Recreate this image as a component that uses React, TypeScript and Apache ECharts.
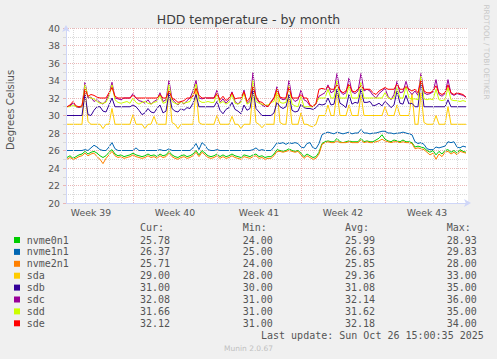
import React, { useEffect, useRef } from 'react';
import * as echarts from 'echarts';

const TITLE = 'HDD temperature - by month';
const Y_NAME = 'Degrees Celsius';
const WATERMARK = 'RRDTOOL / TOBI OETIKER';
const LAST_UPDATE = 'Last update: Sun Oct 26 15:00:35 2025';
const FOOTER = 'Munin 2.0.67';

const SERIES_NAMES = ['nvme0n1', 'nvme1n1', 'nvme2n1', 'sda', 'sdb', 'sdc', 'sdd', 'sde'];
const COLORS = ['#00cc00', '#0066b3', '#ff8000', '#ffcc00', '#330099', '#990099', '#ccff00', '#ff0000'];

// time axis in days since Mon 22 Sep 2025 00:00
const T_START = 1.5;
const T_STEP = 0.25;
const X_MIN = 1.4167;
const X_MAX = 34.9167;
const WEEK_CENTERS = [3.5, 10.5, 17.5, 24.5, 31.5];
const WEEK_LABELS = ['Week 39', 'Week 40', 'Week 41', 'Week 42', 'Week 43'];
const DAY_LINES = [2, 3, 4, 5, 6, 7, 8, 9, 10, 11, 12, 13, 14, 15, 16, 17, 18, 19, 20, 21, 22, 23, 24, 25, 26, 27, 28, 29, 30, 31, 32, 33, 34];
const WEEK_STARTS = [7, 14, 21, 28];

const NVME0N1 = [
  25.2, 25.4, 25.1, 25.3, 25.5, 25.6, 25.9, 25.6, 25.8, 25.9,
  25.7, 25.4, 25.2, 25.4, 25.8, 26.1, 25.6, 25.4, 25.5, 25.3,
  25.4, 25.5, 25.7, 25.5, 25.4, 25.3, 25.4, 25.6, 25.4, 25.5,
  25.3, 25.6, 25.4, 25.5, 25.9, 25.5, 25.3, 25.2, 25.4, 25.5,
  25.3, 25.4, 25.6, 26.0, 25.5, 26.0, 25.7, 25.4, 25.3, 25.4,
  25.6, 25.3, 25.5, 25.3, 25.4, 25.6, 25.4, 25.3, 25.2, 25.5,
  25.4, 25.3, 25.5, 25.6, 25.3, 25.4, 25.2, 25.3, 25.3, 25.6,
  26.1, 26.0, 25.9, 26.0, 26.2, 26.0, 25.9, 26.0, 25.7, 25.3,
  25.6, 25.4, 25.2, 25.3, 25.8, 26.8, 27.0, 27.1, 27.0, 27.0,
  27.4, 27.0, 26.9, 27.0, 27.1, 27.0, 27.0, 27.0, 27.4, 27.0,
  27.1, 27.0, 27.0, 27.2, 27.4, 27.8, 27.3, 27.1, 27.0, 27.2,
  27.1, 27.0, 27.2, 27.0, 27.0, 26.9, 26.4, 26.5, 26.4, 26.3,
  26.0, 25.8, 26.0, 25.5, 25.9, 25.6, 26.0, 26.1, 25.8, 26.0,
  25.7, 26.1, 25.9, 25.8,
];
const NVME1N1 = [
  26.0, 26.0, 26.0, 26.0, 26.0, 26.0, 26.1, 26.0, 26.3, 26.6,
  26.4, 26.1, 26.0, 26.0, 26.4, 26.9, 26.2, 26.0, 26.0, 26.0,
  26.0, 26.0, 26.0, 26.3, 26.0, 26.0, 26.0, 26.0, 26.0, 26.0,
  26.0, 26.1, 26.0, 26.0, 26.2, 26.0, 26.0, 26.0, 26.0, 26.0,
  26.0, 26.0, 26.3, 26.8, 26.1, 26.9, 26.6, 26.1, 26.0, 26.0,
  26.1, 26.0, 26.0, 26.0, 26.0, 26.0, 26.0, 26.0, 26.0, 26.0,
  26.0, 26.0, 26.1, 26.3, 26.0, 26.1, 26.0, 26.0, 26.0, 26.4,
  26.9, 26.8, 26.9, 26.7, 26.9, 26.8, 26.9, 26.8, 26.4, 26.3,
  26.8, 26.9, 26.3, 26.2, 26.8, 27.8, 28.0, 28.1, 28.0, 27.9,
  28.1, 28.0, 27.9, 28.0, 28.1, 27.9, 28.0, 28.0, 28.4, 28.0,
  28.0, 27.9, 28.0, 28.0, 28.1, 28.2, 28.2, 28.0, 28.0, 27.9,
  28.0, 28.0, 28.1, 28.0, 27.9, 27.8, 27.0, 26.8, 26.9, 26.7,
  26.2, 26.1, 26.1, 26.4, 26.3, 26.4, 26.5, 27.0, 26.9, 27.0,
  26.4, 26.3, 26.5, 26.4,
];
const NVME2N1 = [
  25.0, 25.2, 25.0, 25.1, 25.3, 25.4, 25.7, 25.4, 25.6, 25.7,
  25.3, 25.0, 24.5, 25.1, 25.5, 25.9, 25.4, 25.2, 25.3, 25.1,
  25.2, 25.3, 25.5, 25.3, 25.2, 25.1, 25.2, 25.4, 25.2, 25.3,
  25.1, 25.4, 25.2, 25.3, 25.7, 25.3, 25.1, 25.0, 25.2, 25.3,
  25.1, 25.2, 25.4, 25.8, 25.3, 25.8, 25.5, 25.2, 25.1, 25.2,
  25.4, 25.1, 25.3, 25.1, 25.2, 25.4, 25.2, 25.1, 25.0, 25.3,
  25.2, 25.1, 25.3, 25.4, 25.1, 25.2, 25.0, 25.1, 25.1, 25.4,
  25.9, 25.9, 25.8, 25.9, 26.0, 25.9, 25.8, 25.9, 25.5, 25.1,
  25.4, 25.2, 25.0, 25.1, 25.6, 26.7, 26.9, 27.0, 26.9, 26.9,
  27.1, 26.9, 26.9, 26.9, 27.0, 26.9, 26.9, 26.9, 27.2, 26.9,
  27.0, 26.9, 26.9, 27.0, 27.1, 27.3, 27.1, 27.0, 26.9, 27.0,
  27.0, 26.9, 27.0, 26.9, 26.9, 26.8, 26.2, 26.3, 26.2, 26.1,
  25.8, 25.5, 25.7, 25.0, 25.6, 25.3, 25.8, 25.9, 25.6, 25.8,
  25.5, 25.9, 25.8, 25.7,
];
const SDA = [
  29.0, 29.0, 29.0, 29.0, 29.0, 29.0, 33.0, 29.3, 29.0, 29.0,
  29.0, 29.0, 28.5, 29.0, 29.0, 30.8, 29.0, 29.0, 29.0, 29.0,
  29.0, 29.0, 30.1, 29.0, 29.0, 29.0, 28.5, 29.0, 29.0, 29.9,
  29.0, 29.0, 29.0, 29.0, 33.0, 29.2, 29.0, 28.5, 29.0, 29.0,
  29.0, 29.0, 29.0, 33.0, 29.2, 29.0, 29.0, 29.0, 29.0, 29.0,
  30.0, 29.0, 29.0, 29.0, 29.0, 29.9, 29.0, 29.0, 28.5, 29.0,
  29.0, 29.0, 33.0, 29.2, 29.0, 28.6, 29.0, 29.0, 29.0, 29.0,
  33.0, 29.2, 29.0, 29.0, 32.3, 29.0, 29.0, 29.0, 30.3, 29.0,
  29.0, 28.8, 28.7, 29.0, 30.0, 30.0, 30.0, 31.2, 30.0, 30.0,
  32.7, 30.0, 30.0, 30.0, 31.2, 30.0, 30.0, 30.0, 32.3, 30.0,
  30.0, 30.0, 30.0, 30.0, 30.0, 30.0, 31.0, 30.0, 30.0, 30.0,
  31.2, 30.0, 30.0, 30.0, 30.0, 32.5, 29.0, 29.0, 32.6, 29.2,
  29.0, 29.0, 29.0, 30.0, 29.0, 29.0, 29.0, 31.0, 29.0, 29.0,
  29.0, 29.0, 29.0, 29.0,
];
const SDB = [
  30.0, 30.0, 30.0, 30.0, 30.0, 30.0, 32.5, 30.1, 30.0, 30.6,
  31.0, 31.0, 30.5, 30.4, 31.2, 32.0, 31.0, 31.0, 31.0, 31.0,
  31.0, 31.0, 31.2, 31.0, 30.6, 30.1, 30.3, 30.8, 30.4, 30.3,
  30.8, 31.2, 30.3, 30.5, 32.6, 30.8, 30.5, 30.4, 30.8, 30.6,
  30.9, 30.8, 31.4, 32.4, 31.0, 31.0, 31.0, 31.0, 31.0, 31.0,
  31.6, 30.6, 30.2, 30.7, 30.9, 31.5, 30.7, 30.5, 30.2, 31.2,
  30.6, 30.8, 33.0, 30.8, 30.4, 30.0, 30.0, 30.0, 30.0, 30.3,
  31.5, 31.0, 30.8, 31.0, 32.4, 30.6, 30.4, 30.5, 31.3, 30.9,
  30.8, 30.8, 30.7, 30.9, 31.3, 31.2, 31.3, 32.0, 31.2, 31.3,
  33.0, 31.4, 31.2, 30.9, 32.4, 31.3, 31.5, 31.4, 33.0, 31.5,
  31.5, 31.6, 31.1, 31.2, 31.4, 31.1, 31.6, 31.3, 30.9, 31.2,
  32.8, 31.4, 31.3, 32.3, 31.3, 31.4, 31.0, 31.0, 34.0, 31.0,
  31.0, 31.0, 31.0, 31.0, 31.0, 31.0, 31.0, 31.8, 31.0, 31.0,
  31.0, 31.0, 31.0, 31.0,
];
const SDC = [
  31.0, 31.1, 31.4, 31.0, 30.9, 31.0, 33.8, 32.0, 32.1, 31.6,
  31.8, 31.5, 31.3, 31.7, 32.4, 33.8, 32.0, 31.9, 31.8, 32.0,
  32.0, 32.0, 32.5, 32.0, 31.7, 31.6, 31.4, 31.8, 31.3, 31.6,
  31.8, 32.6, 31.6, 31.8, 34.0, 31.9, 31.5, 31.2, 31.6, 31.3,
  31.7, 32.0, 32.8, 34.0, 32.0, 31.9, 32.0, 32.0, 32.0, 32.0,
  32.9, 31.5, 31.9, 31.4, 31.8, 32.7, 31.6, 31.3, 31.7, 32.9,
  31.4, 31.7, 34.9, 32.0, 31.5, 31.2, 31.0, 31.1, 31.6, 32.0,
  33.3, 32.0, 31.8, 31.9, 34.0, 32.0, 31.6, 31.8, 32.9, 31.8,
  31.6, 31.1, 31.0, 31.3, 32.2, 32.4, 32.6, 33.5, 32.6, 32.8,
  34.8, 32.8, 32.4, 32.6, 34.3, 32.7, 32.5, 32.8, 34.8, 32.8,
  33.0, 32.8, 32.3, 32.0, 32.5, 32.8, 33.1, 32.2, 31.8, 32.4,
  33.9, 32.6, 32.7, 33.9, 32.8, 32.4, 32.8, 32.3, 34.8, 32.6,
  32.4, 32.5, 32.7, 34.1, 32.4, 32.2, 32.5, 34.1, 32.5, 32.3,
  32.5, 32.4, 32.3, 32.1,
];
const SDD = [
  31.0, 31.0, 31.2, 31.0, 31.0, 31.0, 33.5, 32.2, 32.0, 31.9,
  31.6, 31.4, 31.4, 31.5, 32.2, 33.5, 31.8, 31.5, 31.4, 31.5,
  31.6, 31.4, 32.0, 31.5, 31.3, 31.5, 31.6, 31.4, 31.3, 31.5,
  31.6, 32.3, 31.4, 31.5, 33.5, 31.6, 31.4, 31.3, 31.5, 31.4,
  31.5, 31.6, 32.4, 33.6, 31.7, 31.5, 31.5, 31.6, 31.5, 31.5,
  32.5, 31.4, 31.6, 31.3, 31.5, 32.4, 31.4, 31.3, 31.5, 32.6,
  31.3, 31.5, 34.0, 31.6, 31.4, 31.3, 31.2, 31.2, 31.5, 31.6,
  33.0, 31.5, 31.4, 31.5, 33.4, 31.3, 31.1, 31.0, 32.2, 31.0,
  31.0, 31.0, 31.0, 31.4, 32.0, 32.0, 32.0, 33.0, 32.0, 32.0,
  34.0, 32.0, 32.0, 32.0, 33.5, 32.0, 32.0, 32.0, 33.8, 32.0,
  32.0, 32.0, 32.0, 32.0, 32.0, 32.0, 32.6, 32.0, 31.9, 32.0,
  33.2, 32.0, 32.0, 33.3, 32.0, 31.9, 31.9, 31.8, 34.5, 31.9,
  31.8, 31.9, 31.8, 33.0, 31.8, 31.7, 31.8, 33.2, 31.8, 31.7,
  31.7, 31.6, 31.7, 31.6,
];
const SDE = [
  31.0, 31.2, 31.6, 31.1, 31.0, 31.1, 33.0, 32.2, 32.4, 32.3,
  32.1, 32.0, 32.0, 32.0, 32.6, 33.2, 32.2, 32.0, 32.0, 32.0,
  32.0, 32.0, 32.3, 32.0, 32.0, 32.0, 32.0, 32.0, 32.0, 32.0,
  32.0, 32.4, 32.0, 32.0, 32.8, 32.0, 31.8, 31.5, 31.6, 31.7,
  32.0, 32.0, 32.2, 33.1, 32.3, 32.0, 32.0, 32.0, 32.0, 32.0,
  32.5, 31.8, 32.2, 31.7, 32.0, 32.6, 31.9, 32.0, 32.0, 32.7,
  31.6, 32.0, 33.3, 32.2, 31.6, 31.5, 31.2, 31.0, 31.5, 32.0,
  33.0, 32.1, 32.0, 32.0, 33.2, 32.0, 32.0, 32.0, 32.4, 32.0,
  32.0, 31.2, 31.0, 31.4, 33.0, 33.1, 33.0, 33.3, 33.0, 33.0,
  33.5, 32.9, 32.6, 32.8, 33.6, 32.8, 32.7, 33.0, 33.4, 33.0,
  33.0, 33.0, 32.6, 32.4, 32.8, 33.0, 33.2, 33.0, 33.0, 33.0,
  33.6, 33.0, 33.0, 33.3, 33.0, 32.8, 33.0, 32.6, 34.0, 32.8,
  32.6, 32.6, 32.8, 33.4, 32.6, 32.4, 32.6, 33.5, 32.6, 32.4,
  32.6, 32.5, 32.4, 32.1,
];

const STAT_HEADERS = ['Cur:', 'Min:', 'Avg:', 'Max:'];
const CUR = [25.78, 26.37, 25.71, 29.0, 31.0, 32.08, 31.66, 32.12];
const MIN = [24.0, 25.0, 24.0, 28.0, 30.0, 31.0, 31.0, 31.0];
const AVG = [25.99, 26.63, 25.85, 29.36, 31.08, 32.14, 31.62, 32.18];
const MAX = [28.93, 29.83, 28.0, 33.0, 35.0, 36.0, 35.0, 34.0];

const Y_MIN = 20;
const Y_MAX = 40;
const Y_INTERVAL = 2;

const ALL_VALUES = [NVME0N1, NVME1N1, NVME2N1, SDA, SDB, SDC, SDD, SDE];

const AXIS_COLOR = '#CFD6F8';
const MAJOR_GRID = '#e9b6b6';
const MINOR_GRID = '#d9d9d9';
const TEXT_COLOR = '#555555';
const SANS = '"DejaVu Sans", sans-serif';
const MONO = '"DejaVu Sans Mono", monospace';

export default function App() {
  const ref = useRef<HTMLDivElement>(null);
  useEffect(() => {
    if (!ref.current) return;
    const chart = echarts.init(ref.current, undefined, { renderer: 'svg' });

    const series: any[] = ALL_VALUES.map((vals, k) => ({
      name: SERIES_NAMES[k],
      type: 'line',
      data: vals.map((v, i) => [T_START + i * T_STEP, v]),
      showSymbol: false,
      symbol: 'none',
      silent: true,
      z: 3,
      lineStyle: { width: 1, color: COLORS[k] },
      itemStyle: { color: COLORS[k] },
    }));

    series.unshift({
      name: 'grid',
      type: 'line',
      data: [],
      z: 1,
      silent: true,
      markLine: {
        silent: true,
        symbol: ['none', 'none'],
        label: { show: false },
        animation: false,
        data: DAY_LINES.map((d) => ({
          xAxis: d,
          lineStyle: {
            color: WEEK_STARTS.includes(d) ? MAJOR_GRID : MINOR_GRID,
            type: [1, 1],
            width: 1,
          },
        })),
      },
    });

    const legendRowY = (k: number) => 240 + k * 11.9;
    const statX = [140, 242.7, 345, 446.7];
    const statCols = [CUR, MIN, AVG, MAX];

    const graphics: any[] = [
      {
        type: 'text', x: 248.5, y: 19,
        style: { text: TITLE, fontSize: 12.5, fontFamily: SANS, fill: '#3c3c3c', align: 'center', verticalAlign: 'middle' },
      },
      {
        type: 'text', x: 10, y: 110, rotation: Math.PI / 2,
        style: { text: Y_NAME, fontSize: 10, fontFamily: SANS, fill: TEXT_COLOR, align: 'center', verticalAlign: 'middle' },
      },
      {
        type: 'text', x: 486, y: 52, rotation: -Math.PI / 2,
        style: { text: WATERMARK, fontSize: 7.4, fontFamily: SANS, fill: '#c8c8c8', align: 'center', verticalAlign: 'middle' },
      },
    ];
    STAT_HEADERS.forEach((h, j) => {
      graphics.push({
        type: 'text', x: statX[j], y: 227.7,
        style: { text: h, fontSize: 10, fontFamily: MONO, fill: TEXT_COLOR, align: 'left', verticalAlign: 'middle' },
      });
    });
    SERIES_NAMES.forEach((name, k) => {
      const y = legendRowY(k);
      graphics.push({
        type: 'rect', shape: { x: 14, y: y - 3, width: 6, height: 6 },
        style: { fill: COLORS[k] },
      });
      graphics.push({
        type: 'text', x: 26.7, y,
        style: { text: name, fontSize: 10, fontFamily: MONO, fill: TEXT_COLOR, align: 'left', verticalAlign: 'middle' },
      });
      statCols.forEach((col, j) => {
        graphics.push({
          type: 'text', x: statX[j], y,
          style: { text: col[k].toFixed(2), fontSize: 10, fontFamily: MONO, fill: TEXT_COLOR, align: 'left', verticalAlign: 'middle' },
        });
      });
    });
    graphics.push({
      type: 'text', x: 261, y: 335.2,
      style: { text: LAST_UPDATE, fontSize: 10, fontFamily: MONO, fill: TEXT_COLOR, align: 'left', verticalAlign: 'middle' },
    });
    graphics.push({
      type: 'text', x: 248.5, y: 348.3,
      style: { text: FOOTER, fontSize: 7.5, fontFamily: SANS, fill: '#c0c0c0', align: 'center', verticalAlign: 'middle' },
    });

    chart.setOption({
      animation: false,
      backgroundColor: '#f0f0f0',
      grid: {
        left: 66, top: 28, width: 402, height: 175,
        show: true, backgroundColor: '#ffffff', borderWidth: 0,
      },
      xAxis: {
        type: 'value',
        min: X_MIN,
        max: X_MAX,
        axisLine: {
          show: true, onZero: false,
          symbol: ['none', 'arrow'], symbolSize: [6, 7], symbolOffset: [0, 3],
          lineStyle: { color: AXIS_COLOR, width: 1 },
        },
        axisTick: { show: false },
        splitLine: { show: false },
        axisLabel: {
          customValues: WEEK_CENTERS,
          formatter: (v: number) => {
            const idx = WEEK_CENTERS.findIndex((c) => Math.abs(c - v) < 1e-6);
            return idx >= 0 ? WEEK_LABELS[idx] : '';
          },
          fontSize: 9.3, fontFamily: SANS, color: TEXT_COLOR, margin: 5,
        },
      },
      yAxis: {
        type: 'value',
        min: Y_MIN,
        max: Y_MAX,
        interval: Y_INTERVAL,
        axisLine: {
          show: true,
          symbol: ['none', 'arrow'], symbolSize: [6, 7], symbolOffset: [0, 3],
          lineStyle: { color: AXIS_COLOR, width: 1 },
        },
        axisTick: { show: true, length: 3, lineStyle: { color: MAJOR_GRID } },
        minorTick: { show: true, splitNumber: 2, length: 3, lineStyle: { color: MINOR_GRID } },
        splitLine: { show: true, lineStyle: { color: MAJOR_GRID, type: [1, 1], width: 1 } },
        minorSplitLine: { show: true, lineStyle: { color: MINOR_GRID, type: [1, 1], width: 1 } },
        axisLabel: { fontSize: 9.3, fontFamily: SANS, color: TEXT_COLOR, margin: 6 },
      },
      series,
      graphic: graphics,
    });

    return () => chart.dispose();
  }, []);

  return (
    <div
      ref={ref}
      style={{ position: 'absolute', left: 0, top: 0, width: 497, height: 359 }}
    />
  );
}
